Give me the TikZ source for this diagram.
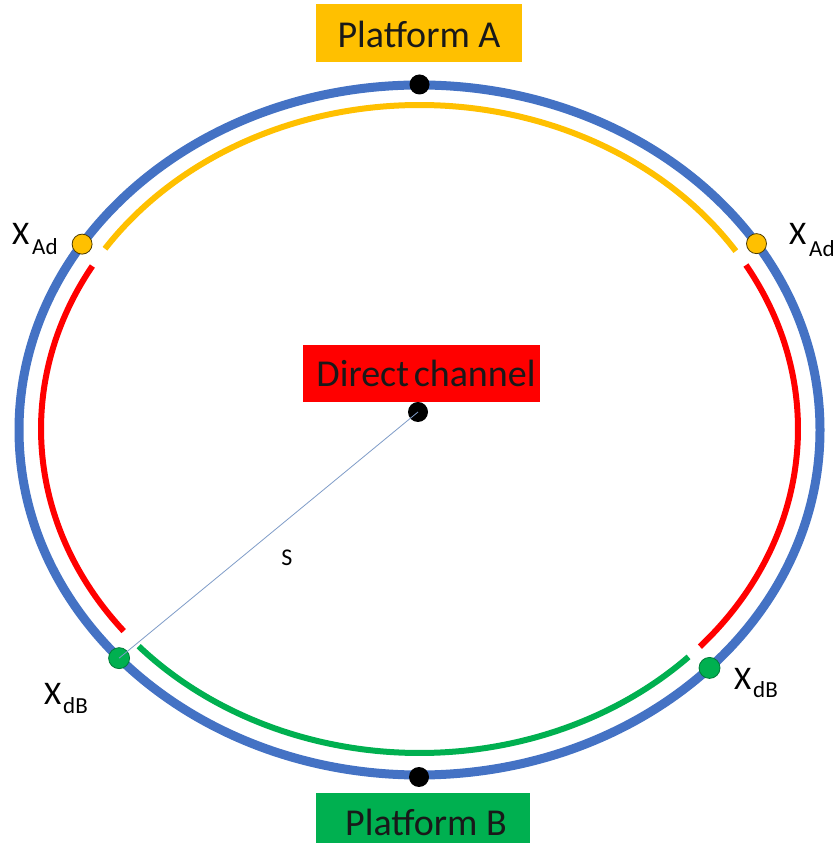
\documentclass[tikz,border=0pt]{standalone}
\usepackage{fontspec}
\setmainfont{Carlito}
\definecolor{oblue}{HTML}{4472C4}
\definecolor{oyel}{HTML}{FFC000}
\definecolor{ored}{HTML}{FF0000}
\definecolor{ogreen}{HTML}{00B050}
\definecolor{lineblue}{HTML}{7F9CC8}
\tikzset{
  outerring/.style={draw=oblue, line width=9pt},
  innerarc/.style={line width=6pt},
  bigdot/.style={circle, fill=black, minimum size=20pt, inner sep=0pt},
  xaddot/.style={circle, fill=oyel, draw=black!70!oyel, line width=0.8pt, minimum size=20pt, inner sep=0pt},
  xdbdot/.style={circle, fill=ogreen, draw=black!30!ogreen, line width=0.8pt, minimum size=21pt, inner sep=0pt},
  labelbox/.style={inner sep=0pt, text=black!90},
  bigtxt/.style={font=\fontsize{38}{42}\selectfont},
  xlab/.style={anchor=base west, inner sep=0pt, font=\fontsize{33}{36}\selectfont},
  sublab/.style={anchor=base west, inner sep=0pt, font=\fontsize{23}{26}\selectfont}
}
\begin{document}
\begin{tikzpicture}[x=1pt,y=1pt]
\useasboundingbox (0,0) rectangle (838,843);
\fill[white] (0,0) rectangle (838,843);
% label boxes
\node[fill=oyel, minimum width=206pt, minimum height=58pt, inner sep=0pt] (pabox) at (419,810) {};
\node[bigtxt, labelbox] (patext) at (419,809) {Platform A};
\node[fill=ored, minimum width=237pt, minimum height=57pt, inner sep=0pt] (dcbox) at (421.5,469.5) {};
\node[bigtxt, labelbox] (dctext) at (426,469.5) {Direct\hspace{-0.1em} channel};
\node[fill=ogreen, minimum width=214pt, minimum height=70pt, inner sep=0pt] (pbbox) at (423,15) {};
\node[bigtxt, labelbox, anchor=base] (pbtext) at (426,7) {Platform B};
% outer ring
\draw[outerring] (419.5,413) ellipse [x radius=400.5pt, y radius=345pt];
% inner arcs
\draw[innerarc, oyel] ([shift={(33.3:378.5pt and 324pt)}]419.5,414)
  arc[start angle=33.3, end angle=146.2, x radius=378.5pt, y radius=324pt];
\draw[innerarc, ored] ([shift={(149.8:378.5pt and 324pt)}]419.5,414)
  arc[start angle=149.8, end angle=218.6, x radius=378.5pt, y radius=324pt];
\draw[innerarc, ogreen] ([shift={(222.1:378.5pt and 324pt)}]419.5,414)
  arc[start angle=222.1, end angle=315.3, x radius=378.5pt, y radius=324pt];
\draw[innerarc, ored] ([shift={(317.8:378.5pt and 324pt)}]419.5,414)
  arc[start angle=317.8, end angle=390.4, x radius=378.5pt, y radius=324pt];
% dots
\node[bigdot] (pa) at (419.5,758.5) {};
\node[bigdot] (pb) at (419,66) {};
\node[bigdot] (dc) at (418,431) {};
\node[xaddot] (xadl) at ([shift={(147.4:400.5pt and 345pt)}]419.5,413) {};
\node[xaddot] (xadr) at ([shift={(32.7:400.5pt and 345pt)}]419.5,413) {};
\node[xdbdot] (xdbl) at ([shift={(221.4:400.5pt and 345pt)}]419.5,413) {};
\node[xdbdot] (xdbr) at ([shift={(316.4:400.5pt and 345pt)}]419.5,413) {};
% radius line
\draw[lineblue, line width=0.8pt] (dc.center) -- (xdbl.center);
\node[font=\fontsize{24}{28}\selectfont, inner sep=0pt] (s) at (287,285) {S};
% point labels
\node[xlab] (xadlX) at (12,598) {X};
\node[sublab] (xadlS) at (32,588) {Ad};
\node[xlab] (xadrX) at (789,598) {X};
\node[sublab] (xadrS) at (809,586) {Ad};
\node[xlab] (xdblX) at (44,138) {X};
\node[sublab] (xdblS) at (63,129) {dB};
\node[xlab] (xdbrX) at (734,153) {X};
\node[sublab] (xdbrS) at (753,145) {dB};
\end{tikzpicture}
\end{document}
